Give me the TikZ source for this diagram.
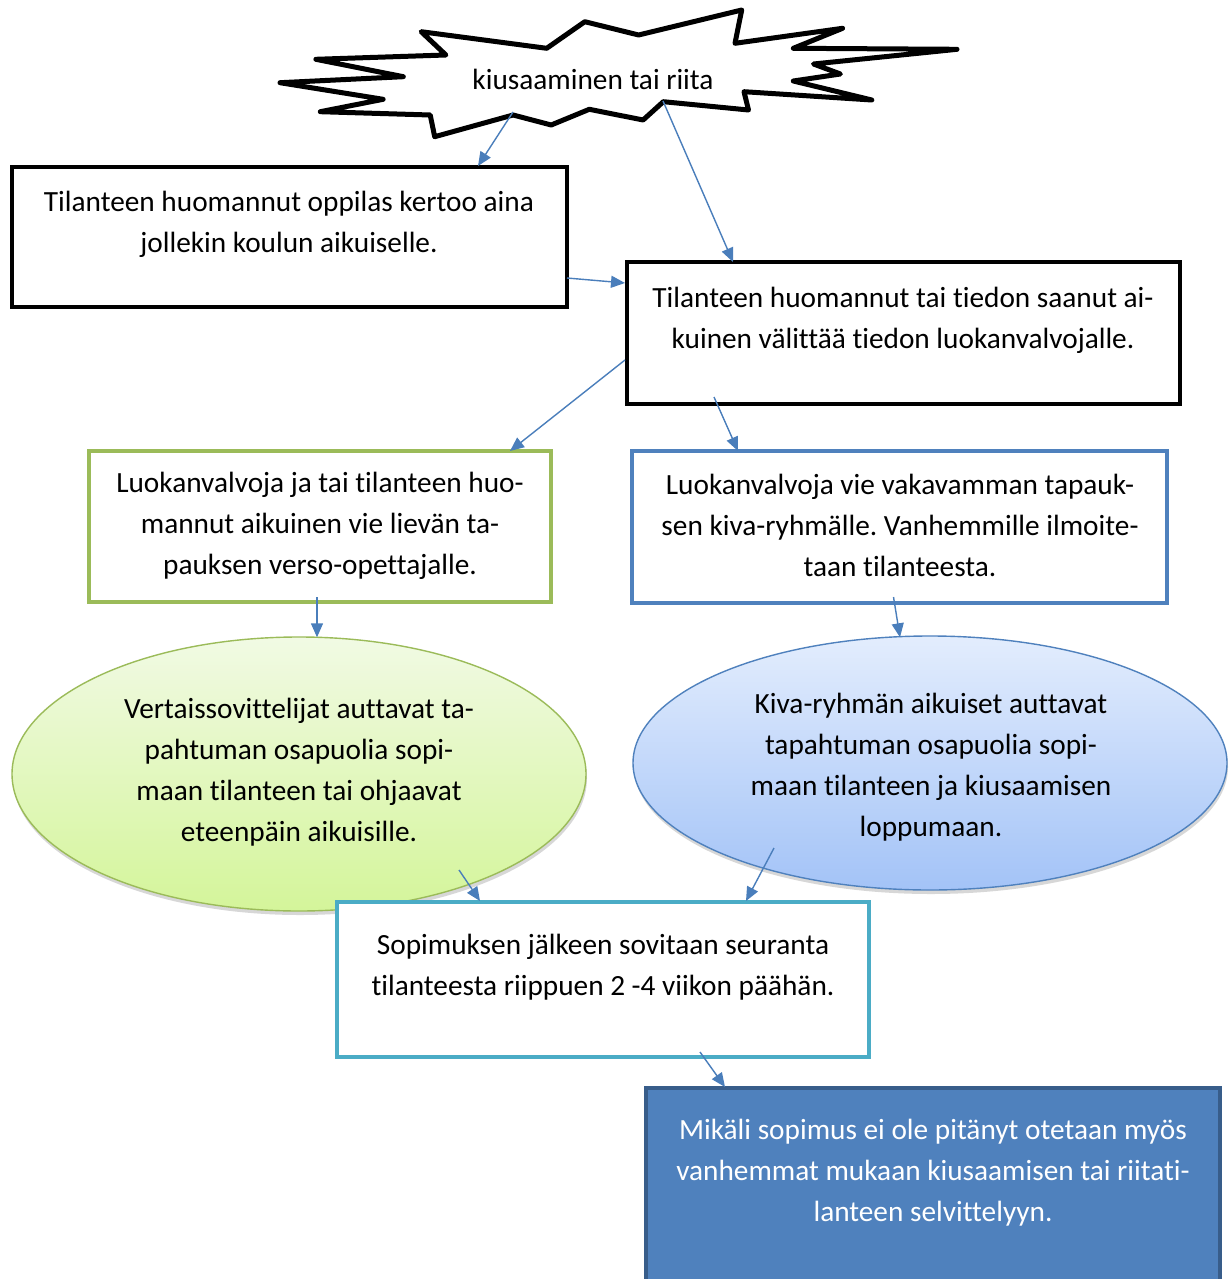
\documentclass[tikz,border=0pt]{standalone}
\usepackage{fontspec}
\setmainfont{Carlito}[Ligatures={NoCommon,NoRequired,NoContextual},Contextuals={NoAlternate}]
\usetikzlibrary{arrows.meta,shapes.geometric,shadows,calc}
\frenchspacing
\definecolor{arrc}{HTML}{4A7EBB}
\definecolor{grn}{HTML}{9BBB59}
\definecolor{blu}{HTML}{4F81BD}
\definecolor{cyn}{HTML}{4BACC6}
\definecolor{dkb}{HTML}{385D8A}
\definecolor{gtop}{HTML}{F1FAE4}
\definecolor{gbot}{HTML}{D4F59A}
\definecolor{btop}{HTML}{E3EDFD}
\definecolor{bbot}{HTML}{A3C3F7}
\tikzset{
  arr/.style={draw=arrc, line width=1.4pt, -{Triangle[length=14pt,width=12pt]}},
  boxshape/.style={draw, rectangle, inner sep=0pt, line width=4pt},
  txt/.style={align=center, inner sep=0pt, font=\fontsize{29.3}{41}\selectfont},
  ell/.style={ellipse, inner sep=0pt, line width=1.4pt,
    drop shadow={shadow xshift=1pt, shadow yshift=-4pt, opacity=0.22, fill=black!70}},
}
\begin{document}
\begin{tikzpicture}[x=1pt, y=-1pt]
\clip (0,0) rectangle (1230,1279);
\fill[white] (0,0) rectangle (1230,1279);
% explosion
\draw[line width=5pt, line join=round, fill=white]
 (421.2,31.7) -- (546.7,48.3) -- (584.8,21.7) -- (638.6,35) -- (741.7,10) -- (735,43.3)
 -- (842.6,28.3) -- (793.3,48.3) -- (957,49.3) -- (813.5,64) -- (840.4,74) -- (793.3,81)
 -- (871.8,100) -- (744,91.7) -- (748.5,110) -- (663.3,101.7) -- (643.1,120) -- (589.3,109.3)
 -- (551.2,125) -- (513.1,115) -- (434.7,136.7) -- (430.2,115) -- (320.3,111.7) -- (383.1,99.3)
 -- (280,82.7) -- (403.3,76.7) -- (315.9,59.3) -- (445.9,55) -- cycle;
\node[txt] (exp) at (593,79) {kiusaaminen tai riita};

% boxes
\node[boxshape, minimum width=555pt, minimum height=140pt] (b1) at (289.5,237) {};
\node[txt] (t1) at (289,224) {Tilanteen huomannut oppilas kertoo aina\\jollekin koulun aikuiselle.};

\node[boxshape, minimum width=553pt, minimum height=142pt] (b2) at (903.5,333) {};
\node[txt] (t2) at (903,320) {Tilanteen huomannut tai tiedon saanut ai-\\kuinen välittää tiedon luokanvalvojalle.};

\node[boxshape, draw=grn, minimum width=462pt, minimum height=151pt] (g) at (320,526.5) {};
\node[txt] (tg) at (320,526) {Luokanvalvoja ja tai tilanteen huo-\\mannut aikuinen vie lievän ta-\\pauksen verso-opettajalle.};

\node[boxshape, draw=blu, minimum width=535pt, minimum height=152pt] (bl) at (899.5,527) {};
\node[txt] (tb) at (900,525) {Luokanvalvoja vie vakavamman tapauk-\\sen kiva-ryhmälle. Vanhemmille ilmoite-\\taan tilanteesta.};

% ellipses
\node[ell, draw=grn, top color=gtop, bottom color=gbot, minimum width=574pt, minimum height=274pt] (e1) at (299,774) {};
\node[txt] (te1) at (299,772) {Vertaissovittelijat auttavat ta-\\pahtuman osapuolia sopi-\\maan tilanteen tai ohjaavat\\eteenpäin aikuisille.};

\node[ell, draw=blu, top color=btop, bottom color=bbot, minimum width=594pt, minimum height=254pt] (e2) at (930,763) {};
\node[txt] (te2) at (931,767) {Kiva-ryhmän aikuiset auttavat\\tapahtuman osapuolia sopi-\\maan tilanteen ja kiusaamisen\\loppumaan.};

\node[boxshape, draw=cyn, fill=white, minimum width=532pt, minimum height=155pt] (c) at (603,979.5) {};
\node[txt] (tc) at (603,967) {Sopimuksen jälkeen sovitaan seuranta\\tilanteesta riippuen 2 -4 viikon päähän.};

\node[boxshape, draw=dkb, fill=blu, minimum width=574pt, minimum height=214pt] (d) at (933,1195) {};
\node[txt, text=white] (td) at (933,1173) {Mikäli sopimus ei ole pitänyt otetaan myös\\vanhemmat mukaan kiusaamisen tai riitati-\\lanteen selvittelyyn.};

% arrows
\draw[arr] ([shift={(-80,33)}]exp.center) -- ([shift={(468,1)}]b1.north west);
\draw[arr] ([shift={(70,22)}]exp.center) -- ([shift={(108,2)}]b2.north west);
\draw[arr] ([shift={(-2,-31)}]b1.south east) -- ([shift={(0,23)}]b2.north west);
\draw[arr] ([shift={(0,27)}]b2.west) -- ([shift={(423,2)}]g.north west);
\draw[arr] ([shift={(89,-9)}]b2.south west) -- ([shift={(108,2)}]bl.north west);
\draw[arr] ([shift={(-3,-7)}]g.south) -- ([shift={(18,1)}]e1.north);
\draw[arr] ([shift={(-6,-8)}]bl.south) -- ([shift={(-30,2)}]e2.north);
\draw[arr] ([shift={(160,96)}]e1.center) -- ([shift={(145,1)}]c.north west);
\draw[arr] ([shift={(-156,85)}]e2.center) -- ([shift={(411,1)}]c.north west);
\draw[arr] ([shift={(365,-7)}]c.south west) -- ([shift={(81,1)}]d.north west);
\end{tikzpicture}
\end{document}
